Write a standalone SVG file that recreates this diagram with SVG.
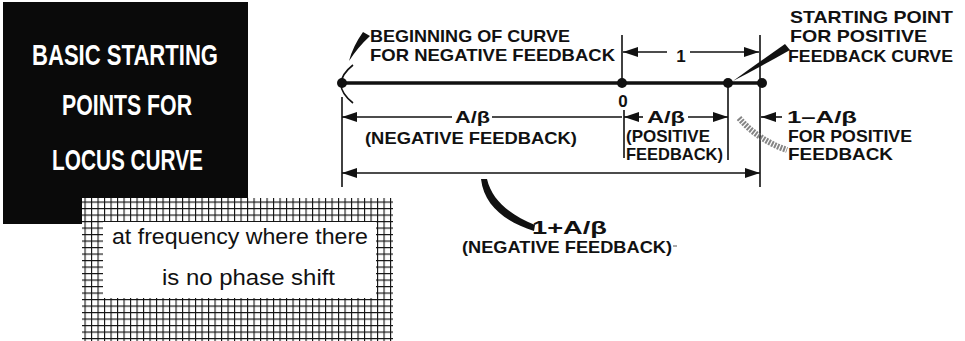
<svg xmlns="http://www.w3.org/2000/svg" width="965" height="341" viewBox="0 0 965 341">
<style>
.lbl{font-family:"Liberation Sans",Arial,sans-serif;font-weight:bold;font-size:17px;fill:#111}
.big{font-family:"Liberation Sans",Arial,sans-serif;font-weight:bold;font-size:30px;fill:#fff}
.note{font-family:"Liberation Sans",Arial,sans-serif;font-size:22px;fill:#111}
.dim{stroke:#111;stroke-width:1.6;fill:none}
.arr{stroke:#111;stroke-width:1.6;fill:none;marker-start:url(#ah);marker-end:url(#ah)}
.arrS{stroke:#111;stroke-width:1.6;fill:none;marker-start:url(#ah)}
.arrE{stroke:#111;stroke-width:1.6;fill:none;marker-end:url(#ah)}
</style>
<defs>
<marker id="ah" viewBox="0 0 15 10" refX="15" refY="5" markerWidth="15" markerHeight="10" markerUnits="userSpaceOnUse" orient="auto-start-reverse">
<path d="M0,0 L15,5 L0,10 Z" fill="#111"/>
</marker>
<pattern id="grid" patternUnits="userSpaceOnUse" width="6.5" height="6.5">
<rect width="6.5" height="6.5" fill="#fff"/>
<path d="M0,0 H6.5 M0,0 V6.5" stroke="#111" stroke-width="2.2"/>
</pattern>
</defs>
<rect width="965" height="341" fill="#fff"/>

<g id="title-box">
<rect x="3" y="2" width="245" height="222" fill="#0a0a0a"/>
<text class="big" x="32" y="65" textLength="186" lengthAdjust="spacingAndGlyphs">BASIC STARTING</text>
<text class="big" x="62" y="115" textLength="130" lengthAdjust="spacingAndGlyphs">POINTS FOR</text>
<text class="big" x="52" y="170" textLength="151" lengthAdjust="spacingAndGlyphs">LOCUS CURVE</text>
</g>

<g id="note-box">
<rect x="82" y="198" width="311" height="143" fill="url(#grid)"/>
<rect x="103" y="222" width="273" height="76" fill="#fff"/>
<text class="note" x="112" y="244" textLength="256" lengthAdjust="spacingAndGlyphs">at frequency where there</text>
<text class="note" x="162" y="285" textLength="173" lengthAdjust="spacingAndGlyphs">is no phase shift</text>
</g>

<g id="connectors">
<line x1="342" y1="83" x2="762" y2="83" stroke="#111" stroke-width="3.5"/>
<line class="dim" x1="342" y1="97" x2="342" y2="187"/>
<line class="dim" x1="622" y1="35" x2="622" y2="83"/>
<line class="dim" x1="624" y1="110" x2="624" y2="158"/>
<line class="dim" x1="728" y1="83" x2="728" y2="160"/>
<line class="dim" x1="760" y1="35" x2="760" y2="187"/>
<path class="arrS" d="M623,52 H667"/>
<path class="arrE" d="M690,52 H759"/>
<path class="arrS" d="M342,117 H452"/>
<path class="dim" d="M492,117 H622"/>
<path class="arrS" d="M624,117 H643"/>
<path class="arrE" d="M688,117 H728"/>
<path class="arrS" d="M761,117 H782"/>
<path class="arr" d="M342,173 H760"/>
<path d="M353,65 Q329,84 353,103" class="dim" stroke-width="1.8"/>
<path d="M363,32 L370,36 Q358,47 349,61 Q353,46 363,32 Z" fill="#111"/>
<path d="M733,81 Q758,63 785,44 L790,50 Q760,67 733,81 Z" fill="#111"/>
<path d="M481,179 C484,206 506,222 534,231 L535,225 C511,215 492,201 487,179 Z" fill="#111"/>
<path d="M739,118 Q758,140 787,150" stroke="#666" stroke-width="6" fill="none" stroke-dasharray="2 1.2" opacity="0.8"/>
<line x1="673" y1="246" x2="677" y2="246" stroke="#555" stroke-width="1"/>
</g>

<g id="points">
<circle cx="342" cy="83" r="5" fill="#111"/>
<circle cx="622" cy="83" r="5" fill="#111"/>
<circle cx="728" cy="83" r="5" fill="#111"/>
<circle cx="762" cy="83" r="5" fill="#111"/>
</g>

<g id="labels">
<text class="lbl" x="370" y="42" textLength="200" lengthAdjust="spacingAndGlyphs">BEGINNING OF CURVE</text>
<text class="lbl" x="370" y="61" textLength="245" lengthAdjust="spacingAndGlyphs">FOR NEGATIVE FEEDBACK</text>
<text class="lbl" x="790" y="23" textLength="163" lengthAdjust="spacingAndGlyphs">STARTING POINT</text>
<text class="lbl" x="790" y="42" textLength="137" lengthAdjust="spacingAndGlyphs">FOR POSITIVE</text>
<text class="lbl" x="788" y="62" textLength="165" lengthAdjust="spacingAndGlyphs">FEEDBACK CURVE</text>
<text class="lbl" x="681" y="62" text-anchor="middle">1</text>
<text class="lbl" x="623" y="107" text-anchor="middle">0</text>
<text class="lbl" x="455" y="123" textLength="35" lengthAdjust="spacingAndGlyphs">A/β</text>
<text class="lbl" x="365" y="144" textLength="212" lengthAdjust="spacingAndGlyphs">(NEGATIVE FEEDBACK)</text>
<text class="lbl" x="647" y="123" textLength="38" lengthAdjust="spacingAndGlyphs">A/β</text>
<text class="lbl" x="626" y="142" textLength="84" lengthAdjust="spacingAndGlyphs">(POSITIVE</text>
<text class="lbl" x="626" y="160" textLength="97" lengthAdjust="spacingAndGlyphs">FEEDBACK)</text>
<text class="lbl" x="787" y="123" textLength="70" lengthAdjust="spacingAndGlyphs">1–A/β</text>
<text class="lbl" x="788" y="142" textLength="124" lengthAdjust="spacingAndGlyphs">FOR POSITIVE</text>
<text class="lbl" x="788" y="160" textLength="105" lengthAdjust="spacingAndGlyphs">FEEDBACK</text>
<text class="lbl" x="532" y="234" style="font-size:19px" textLength="75" lengthAdjust="spacingAndGlyphs">1+A/β</text>
<text class="lbl" x="462" y="253" textLength="210" lengthAdjust="spacingAndGlyphs">(NEGATIVE FEEDBACK)</text>
</g>
</svg>
